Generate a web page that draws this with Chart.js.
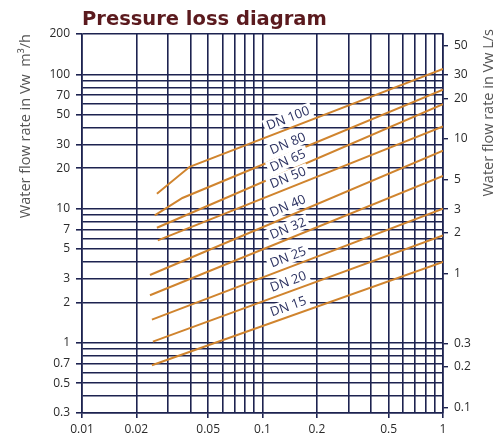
<!DOCTYPE html>
<html><head><meta charset="utf-8">
<script src="https://cdn.jsdelivr.net/npm/chart.js@4.4.0/dist/chart.umd.min.js"></script>
<style>html,body{margin:0;padding:0;background:#fff;}#wrap{width:499px;height:444px;position:relative;}</style>
</head><body><div id="wrap"><canvas id="c"></canvas></div>
<script>
// ---- data ----
const xGrid = [0.01,0.02,0.03,0.04,0.05,0.06,0.07,0.08,0.09,0.1,0.2,0.3,0.4,0.5,0.6,0.7,0.8,0.9,1];
const xTickLabels = [0.01,0.02,0.05,0.1,0.2,0.5,1];
const yGrid = [0.3,0.4,0.5,0.6,0.7,0.8,0.9,1,2,3,4,5,6,7,8,9,10,20,30,40,50,60,70,80,90,100,200];
const yTickLabels = [0.3,0.5,0.7,1,2,3,5,7,10,20,30,50,70,100,200];
const y2TickLabels = [0.1,0.2,0.3,1,2,3,5,10,20,30,50];
const seriesNames = ['DN 15','DN 20','DN 25','DN 32','DN 40','DN 50','DN 65','DN 80','DN 100'];
const dn15X = [0.0244, 1],          dn15Y = [0.68, 4.0];
const dn20X = [0.0247, 1],          dn20Y = [1.02, 6.3];
const dn25X = [0.0244, 1],          dn25Y = [1.49, 10];
const dn32X = [0.0238, 1],          dn32Y = [2.26, 17.5];
const dn40X = [0.0238, 1],          dn40Y = [3.2, 27];
const dn50X = [0.0263, 1],          dn50Y = [5.8, 41];
const dn65X = [0.026, 1],           dn65Y = [7.2, 60];
const dn80X = [0.0253, 0.036, 1],   dn80Y = [8.9, 12, 77];
const dn100X = [0.026, 0.0395, 1],  dn100Y = [12.9, 20.5, 110];
const seriesX = [dn15X,dn20X,dn25X,dn32X,dn40X,dn50X,dn65X,dn80X,dn100X];
const seriesY = [dn15Y,dn20Y,dn25Y,dn32Y,dn40Y,dn50Y,dn65Y,dn80Y,dn100Y];
const flowRatio = 3.3; // m3/h per L/s as drawn on the right axis
const labelAtX = 0.145;

// ---- styling ----
const GRID = '#1d2350';
const LINE = '#d0842e';
const fmt = v => String(v);

const datasets = seriesNames.map((name,i)=>({
  label: name,
  data: seriesX[i].map((x,j)=>({x, y: seriesY[i][j]})),
  showLine: true, borderColor: LINE, backgroundColor: LINE,
  borderWidth: 2, pointRadius: 0, tension: 0
}));

const dnLabels = {
  id: 'dnLabels',
  afterDatasetsDraw(chart){
    const {ctx, scales:{x, y}} = chart;
    ctx.save();
    ctx.font = '13px "Open Sans"';
    seriesNames.forEach((name,i)=>{
      const xs = seriesX[i], ys = seriesY[i];
      let k = 0; while (k < xs.length-2 && xs[k+1] < labelAtX) k++;
      const lx0 = Math.log(xs[k]), lx1 = Math.log(xs[k+1]);
      const t = (Math.log(labelAtX)-lx0)/(lx1-lx0);
      const ly = Math.exp(Math.log(ys[k]) + t*(Math.log(ys[k+1])-Math.log(ys[k])));
      const px = x.getPixelForValue(labelAtX), py = y.getPixelForValue(ly);
      const ax = x.getPixelForValue(xs[k]), ay = y.getPixelForValue(ys[k]);
      const bx = x.getPixelForValue(xs[k+1]), by = y.getPixelForValue(ys[k+1]);
      const ang = Math.atan2(by-ay, bx-ax);
      ctx.save();
      ctx.translate(px, py);
      ctx.rotate(ang);
      const w = ctx.measureText(name).width;
      ctx.fillStyle = '#fff';
      ctx.fillRect(-w/2-3, -17, w+6, 14);
      ctx.fillStyle = '#2a3060';
      ctx.textAlign = 'center';
      ctx.textBaseline = 'middle';
      ctx.fillText(name, 0, -9.5);
      ctx.restore();
    });
    ctx.restore();
  }
};

const rightTitle = {
  id: 'rightTitle',
  afterDraw(chart){
    const {ctx, chartArea} = chart;
    ctx.save();
    ctx.translate(489, chartArea.top - 5);
    ctx.rotate(-Math.PI/2);
    ctx.font = '14.5px "Open Sans"';
    ctx.fillStyle = '#555';
    ctx.textAlign = 'right';
    ctx.textBaseline = 'middle';
    ctx.fillText('Water flow rate in Vw L/s', 0, 0);
    ctx.restore();
  }
};

const tickFont = {family: '"Open Sans"', size: 12};
new Chart(document.getElementById('c'), {
  type: 'scatter',
  data: {datasets},
  options: {
    responsive: true, maintainAspectRatio: false, animation: false,
    layout: {padding: 0},
    plugins: {
      legend: {display: false}, tooltip: {enabled: false},
      title: {display: true, text: 'Pressure loss diagram', align: 'start', fullSize: false,
        color: '#5b1a1e', font: {family: '"DejaVu Sans"', weight: 'bold', size: 19.5, lineHeight: 1.2},
        padding: {top: 8, bottom: 2.6}}
    },
    scales: {
      x: {
        type: 'logarithmic', position: 'bottom', min: 0.01, max: 1,
        afterBuildTicks: s => { s.ticks = xGrid.map(v => ({value: v})); },
        afterFit: s => { s.height = 31; },
        ticks: {autoSkip: false, maxRotation: 0, minRotation: 0, color: '#2b2b2b', font: tickFont, padding: 4,
          callback: v => xTickLabels.includes(v) ? fmt(v) : ''},
        grid: {color: GRID, lineWidth: 1.6, tickLength: 5,
          tickColor: c => (c.tick && xTickLabels.includes(c.tick.value)) ? GRID : 'rgba(0,0,0,0)'},
        border: {display: true, color: GRID, width: 1.6}
      },
      y: {
        type: 'logarithmic', position: 'left', min: 0.3, max: 200,
        afterBuildTicks: s => { s.ticks = yGrid.map(v => ({value: v})); },
        afterFit: s => { s.width = 82; },
        ticks: {autoSkip: false, color: '#2b2b2b', font: tickFont, padding: 6,
          callback: v => yTickLabels.includes(v) ? fmt(v) : ''},
        grid: {color: GRID, lineWidth: 1.6, tickLength: 6,
          tickColor: c => (c.tick && yTickLabels.includes(c.tick.value)) ? GRID : 'rgba(0,0,0,0)'},
        border: {display: true, color: GRID, width: 1.6},
        title: {display: true, text: 'Water flow rate in Vw  m³/h', align: 'end', color: '#555',
          font: {family: '"Open Sans"', size: 14.5}, padding: {top: 17, bottom: 0}}
      },
      y2: {
        type: 'logarithmic', position: 'right', min: 0.3/flowRatio, max: 200/flowRatio,
        afterBuildTicks: s => { s.ticks = y2TickLabels.map(v => ({value: v})); },
        afterFit: s => { s.width = 56; },
        ticks: {autoSkip: false, color: '#2b2b2b', font: tickFont, padding: 6,
          callback: v => y2TickLabels.includes(v) ? fmt(v) : ''},
        grid: {drawOnChartArea: false, color: GRID, lineWidth: 1.4, tickLength: 5},
        border: {display: true, color: GRID, width: 1.6}
      }
    }
  },
  plugins: [dnLabels, rightTitle]
});
</script>
</body></html>
